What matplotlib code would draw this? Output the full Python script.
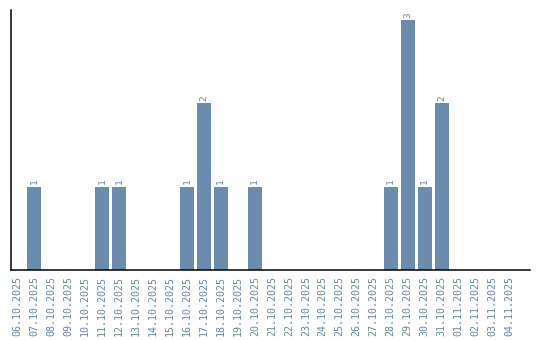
import numpy as np
import matplotlib
matplotlib.use("Agg")
import matplotlib.pyplot as plt

dates = ["06.10.2025", "07.10.2025", "08.10.2025", "09.10.2025", "10.10.2025",
         "11.10.2025", "12.10.2025", "13.10.2025", "14.10.2025", "15.10.2025",
         "16.10.2025", "17.10.2025", "18.10.2025", "19.10.2025", "20.10.2025",
         "21.10.2025", "22.10.2025", "23.10.2025", "24.10.2025", "25.10.2025",
         "26.10.2025", "27.10.2025", "28.10.2025", "29.10.2025", "30.10.2025",
         "31.10.2025", "01.11.2025", "02.11.2025", "03.11.2025", "04.11.2025"]
counts = [0, 1, 0, 0, 0, 1, 1, 0, 0, 0, 1, 2, 1, 0, 1,
          0, 0, 0, 0, 0, 0, 0, 1, 3, 1, 2, 0, 0, 0, 0]

bar_color = "#6a8caf"
text_color = "#6587ab"

fig = plt.figure(figsize=(5.4, 3.4), dpi=100)
ax = fig.add_axes([11 / 540, 70 / 340, 519 / 540, 260 / 340])

x = np.arange(len(dates))
ax.bar(x, counts, width=0.82, color=bar_color)
for xi, c in zip(x, counts):
    if c > 0:
        ax.text(xi, c + 0.03, str(c), rotation=90, ha="center", va="bottom",
                fontsize=6.8, color=text_color, family="DejaVu Sans Mono")

ax.set_xlim(-0.35, 30.2)
ax.set_ylim(0, 3.12)
ax.set_xticks(x)
ax.set_xticklabels(dates, rotation=90, fontsize=7.2, color=text_color,
                   family="DejaVu Sans Mono")
ax.tick_params(axis="x", length=0, pad=4)
ax.set_yticks([])
ax.spines["top"].set_visible(False)
ax.spines["right"].set_visible(False)
ax.spines["left"].set_linewidth(1.1)
ax.spines["bottom"].set_linewidth(1.1)

fig.savefig("out.png", dpi=100)
